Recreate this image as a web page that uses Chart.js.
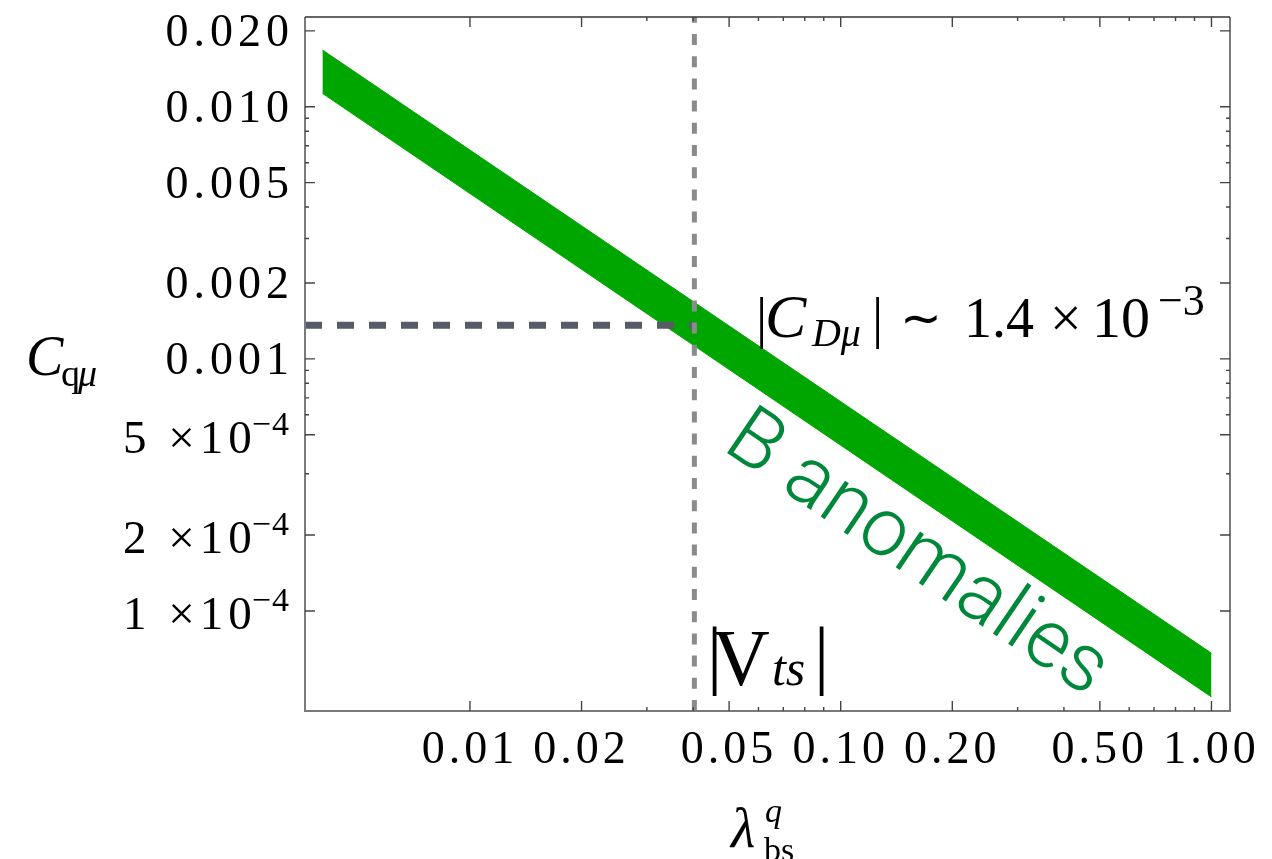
<!DOCTYPE html>
<html>
<head>
<meta charset="utf-8">
<script src="https://cdn.jsdelivr.net/npm/chart.js@4.4.1/dist/chart.umd.min.js"></script>
<style>
html, body { margin: 0; padding: 0; background: #fff; }
#wrap { width: 1272px; height: 859px; }
</style>
</head>
<body>
<div id="wrap"><canvas id="bandChart" width="1272" height="859"></canvas></div>
<script>
// band edges (straight lines on log-log axes)
const lambdaVals = [0.004, 1.0];
const upperC = [0.0168, 6.8e-5];
const lowerC = [0.0113, 4.56e-5];

// reference lines
const vtsValue = 0.0403;
const cdValue = 1.36e-3;

// axis ranges
const xRange = [0.00359, 1.122];
const yRange = [4.01e-5, 0.0227];

// ticks
const xTicks = [0.01, 0.02, 0.05, 0.1, 0.2, 0.5, 1.0];
const xTickLabels = ['0.01', '0.02', '0.05', '0.10', '0.20', '0.50', '1.00'];
const xMinorTicks = [0.03, 0.04, 0.06, 0.07, 0.08, 0.09, 0.3, 0.4, 0.6, 0.7, 0.8, 0.9];
const yTicks = [0.02, 0.01, 0.005, 0.002, 0.001, 5e-4, 2e-4, 1e-4];
const yTickLabels = ['0.020', '0.010', '0.005', '0.002', '0.001', '5 ×10^−4', '2 ×10^−4', '1 ×10^−4'];
const yMinorTicks = [0.009, 0.008, 0.007, 0.006, 0.004, 0.003, 9e-4, 8e-4, 7e-4, 6e-4, 3.5e-4];

const green = '#00a600';
const SERIF = '"Liberation Serif", "Times New Roman", serif';

function drawParts(ctx, x, y, parts) {
    parts.forEach(p => {
        ctx.font = p.font;
        ctx.fillStyle = p.color || '#000';
        ctx.fillText(p.text, x + p.dx, y + (p.dy || 0));
    });
}

const frameAndLabels = {
    id: 'frameAndLabels',
    afterDatasetsDraw(chart) {
        const {ctx, chartArea: a, scales: {x, y}} = chart;
        ctx.save();

        // frame
        ctx.strokeStyle = '#7a7a7a';
        ctx.lineWidth = 2;
        ctx.beginPath();
        ctx.moveTo(a.left, a.top);
        ctx.lineTo(a.left, a.bottom);
        ctx.lineTo(a.right, a.bottom);
        ctx.lineTo(a.right, a.top);
        ctx.stroke();
        ctx.strokeStyle = '#333';
        ctx.lineWidth = 1.3;
        ctx.beginPath();
        ctx.moveTo(a.left, a.top);
        ctx.lineTo(a.right, a.top);
        ctx.stroke();

        // inward ticks on all four sides
        ctx.strokeStyle = '#444';
        ctx.lineWidth = 1.4;
        const xt = (v, len) => {
            const px = x.getPixelForValue(v);
            ctx.moveTo(px, a.bottom); ctx.lineTo(px, a.bottom - len);
            ctx.moveTo(px, a.top); ctx.lineTo(px, a.top + len);
        };
        const yt = (v, len) => {
            const py = y.getPixelForValue(v);
            ctx.moveTo(a.left, py); ctx.lineTo(a.left + len, py);
            ctx.moveTo(a.right, py); ctx.lineTo(a.right - len, py);
        };
        ctx.beginPath();
        xTicks.forEach(v => xt(v, 10));
        xMinorTicks.forEach(v => xt(v, 4));
        yTicks.forEach(v => yt(v, 10));
        yMinorTicks.forEach(v => yt(v, 4));
        ctx.stroke();

        // tick labels
        ctx.fillStyle = '#000';
        ctx.textBaseline = 'alphabetic';
        ctx.letterSpacing = '4px';
        ctx.font = '46px ' + SERIF;
        ctx.textAlign = 'center';
        xTicks.forEach((v, i) => {
            ctx.fillText(xTickLabels[i], x.getPixelForValue(v), a.bottom + 52);
        });
        ctx.textAlign = 'right';
        const labelRight = a.left - 16;
        yTicks.forEach((v, i) => {
            const py = y.getPixelForValue(v);
            const lab = yTickLabels[i];
            if (lab.includes('^')) {
                const [base, exp] = lab.split('^');
                ctx.letterSpacing = '1px';
                ctx.font = '34px ' + SERIF;
                ctx.fillText(exp, labelRight + 1, py);
                const w = ctx.measureText(exp).width;
                ctx.letterSpacing = '5px';
                ctx.font = '47px ' + SERIF;
                ctx.fillText(base, labelRight - w + 6, py + 18);
            } else {
                ctx.letterSpacing = '5px';
                ctx.font = '46px ' + SERIF;
                ctx.fillText(lab, labelRight + 5, py + 15.5);
            }
        });
        ctx.letterSpacing = '0px';
        ctx.textAlign = 'left';

        // axis titles
        drawParts(ctx, a.left - 279, a.top + 358, [
            {text: 'C', font: 'italic 56px ' + SERIF, dx: 0},
            {text: 'q', font: '38px ' + SERIF, dx: 35, dy: 11},
            {text: 'μ', font: 'italic 38px ' + SERIF, dx: 52, dy: 11}
        ]);
        drawParts(ctx, 731, a.bottom + 136, [
            {text: 'λ', font: 'italic 56px ' + SERIF, dx: 0},
            {text: 'q', font: 'italic 34px ' + SERIF, dx: 34, dy: -25},
            {text: 'bs', font: '34px ' + SERIF, dx: 33, dy: 14}
        ]);

        // |V_ts| label next to the vertical line
        const vx = x.getPixelForValue(0.04357), vy = y.getPixelForValue(5.086e-5);
        drawParts(ctx, vx, vy, [
            {text: '|', font: '76px ' + SERIF, dx: 0, dy: -5},
            {text: 'V', font: '80px ' + SERIF, dx: 5},
            {text: 'ts', font: 'italic 50px ' + SERIF, dx: 65},
            {text: '|', font: '76px ' + SERIF, dx: 107, dy: -5}
        ]);

        // |C_Dmu| ~ 1.4 x 10^-3
        const cx = x.getPixelForValue(0.05906), cy = y.getPixelForValue(1.223e-3);
        drawParts(ctx, cx, cy, [
            {text: '|', font: '56px ' + SERIF, dx: 0},
            {text: 'C', font: 'italic 62px ' + SERIF, dx: 9},
            {text: 'Dμ', font: 'italic 40px ' + SERIF, dx: 56, dy: 9},
            {text: '|', font: '56px ' + SERIF, dx: 116},
            {text: '∼', font: '50px "DejaVu Sans", sans-serif', dx: 144, dy: -2},
            {text: '1.4', font: '56px ' + SERIF, dx: 208},
            {text: '×', font: '56px ' + SERIF, dx: 294},
            {text: '10', font: '58px ' + SERIF, dx: 336},
            {text: '−3', font: '44px ' + SERIF, dx: 402, dy: -22}
        ]);

        // B anomalies, parallel to the band
        const p0x = x.getPixelForValue(lambdaVals[0]), p0y = y.getPixelForValue(upperC[0]);
        const p1x = x.getPixelForValue(lambdaVals[1]), p1y = y.getPixelForValue(upperC[1]);
        const ang = Math.atan2(p1y - p0y, p1x - p0x);
        const bx = x.getPixelForValue(0.04753), by = y.getPixelForValue(4.395e-4);
        ctx.translate(bx, by);
        ctx.rotate(ang);
        ctx.font = '300 82px Roboto, "Liberation Sans", sans-serif';
        ctx.fillStyle = '#00883a';
        ctx.fillText('B anomalies', 0, 0);

        ctx.restore();
    }
};

const bandChart = new Chart(document.getElementById('bandChart'), {
    type: 'line',
    data: {
        datasets: [
            {
                label: '|Vts|',
                data: [{x: vtsValue, y: yRange[0]}, {x: vtsValue, y: yRange[1]}],
                borderColor: '#8b8b8b',
                borderWidth: 5,
                borderDash: [11, 11.2],
                pointRadius: 0,
                fill: false
            },
            {
                label: 'C_Dmu',
                data: [{x: xRange[0], y: cdValue}, {x: vtsValue, y: cdValue}],
                borderColor: '#555c66',
                borderWidth: 7,
                borderDash: [17, 15],
                pointRadius: 0,
                fill: false
            },
            {
                label: 'upper',
                data: lambdaVals.map((l, i) => ({x: l, y: upperC[i]})),
                borderColor: green,
                borderWidth: 1,
                pointRadius: 0,
                fill: false
            },
            {
                label: 'lower',
                data: lambdaVals.map((l, i) => ({x: l, y: lowerC[i]})),
                borderColor: green,
                backgroundColor: green,
                borderWidth: 1,
                pointRadius: 0,
                fill: '-1'
            }
        ]
    },
    options: {
        responsive: false,
        animation: false,
        devicePixelRatio: 1,
        events: [],
        layout: {
            padding: {left: 305, right: 42, top: 17, bottom: 148}
        },
        plugins: {
            legend: { display: false },
            tooltip: { enabled: false }
        },
        scales: {
            x: { type: 'logarithmic', min: xRange[0], max: xRange[1], display: false },
            y: { type: 'logarithmic', min: yRange[0], max: yRange[1], display: false }
        }
    },
    plugins: [frameAndLabels]
});
</script>
</body>
</html>
